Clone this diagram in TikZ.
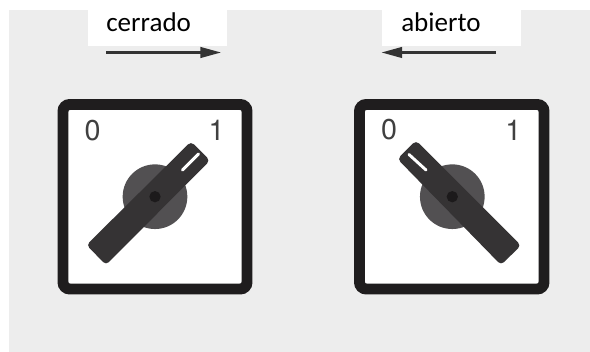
\documentclass[tikz,border=0pt]{standalone}
\usepackage{fontspec}
\setmainfont{Carlito}
\newfontfamily\dialfont{TeX Gyre Heros}
\usetikzlibrary{arrows.meta}
\definecolor{panel}{HTML}{EDEDED}
\definecolor{frameblack}{HTML}{1F1D1E}
\definecolor{handledark}{HTML}{353334}
\definecolor{hubgrey}{HTML}{525052}
\definecolor{dotdark}{HTML}{1C1A1B}
\newcommand{\dialdigit}[1]{{\dialfont\fontsize{21.5}{22}\selectfont #1}}
\tikzset{
  x=0.75pt,y=-0.75pt,
  dialframe/.style={draw=frameblack,line width=8.2pt,fill=white,rounded corners=5pt},
  handle/.style={fill=handledark,rounded corners=3pt},
  hub/.style={circle,fill=hubgrey,minimum size=48.5pt,inner sep=0pt},
  pivot/.style={circle,fill=dotdark,minimum size=8.5pt,inner sep=0pt},
  slit/.style={draw=white,line width=2.2pt,line cap=round},
  digit/.style={text=black!75,inner sep=0pt},
  word/.style={font=\fontsize{20.3}{21}\selectfont,text=black,inner sep=0pt,anchor=base west},
  whitebox/.style={fill=white,draw=none,inner sep=0pt},
  move/.style={draw=black!80,line width=1.6pt,-{Triangle[length=15.5pt,width=8pt]}},
}
\begin{document}
\begin{tikzpicture}
\useasboundingbox (0,0) rectangle (590,352);
\fill[white] (0,0) rectangle (590,352);
\fill[panel] (9,10) rectangle (590,352);
\fill[whitebox] (87.5,0) rectangle (226.5,46);
\fill[whitebox] (382,0) rectangle (521,46);
\node[word] (lclosed) at (106,32) {cerrado};
\node[word] (lopen) at (401,32) {abierto};
\coordinate (a1s) at (106,52.5);
\coordinate (a1e) at (221,52.5);
\coordinate (a2s) at (496,52.5);
\coordinate (a2e) at (381.5,52.5);
\draw[move] (a1s) -- (a1e);
\draw[move] (a2s) -- (a2e);
% left dial
\draw[dialframe] (63,104.5) rectangle (247,289);
\node[digit] (l0) at (92.7,130.7) {\dialdigit{0}};
\node[digit] (l1) at (216.7,130.7) {\dialdigit{1}};
\node[hub] (lh) at (155,196.7) {};
\fill[handle] (191,141.5) -- (210,160.5) -- (106,265) -- (86.5,245) -- cycle;
\node[pivot] (lp) at (155,196.7) {};
\draw[slit] (182.5,170) -- (198.5,154);
% right dial
\draw[dialframe] (359.5,104.5) rectangle (544,289);
\node[digit] (r0) at (389,130) {\dialdigit{0}};
\node[digit] (r1) at (513.3,130) {\dialdigit{1}};
\node[hub] (rh) at (452.3,196.7) {};
\fill[handle] (416,140.5) -- (397.5,159) -- (501,265) -- (521,245.5) -- cycle;
\node[pivot] (rp) at (452.3,196.7) {};
\draw[slit] (409,154.5) -- (426,170);
\end{tikzpicture}
\end{document}
